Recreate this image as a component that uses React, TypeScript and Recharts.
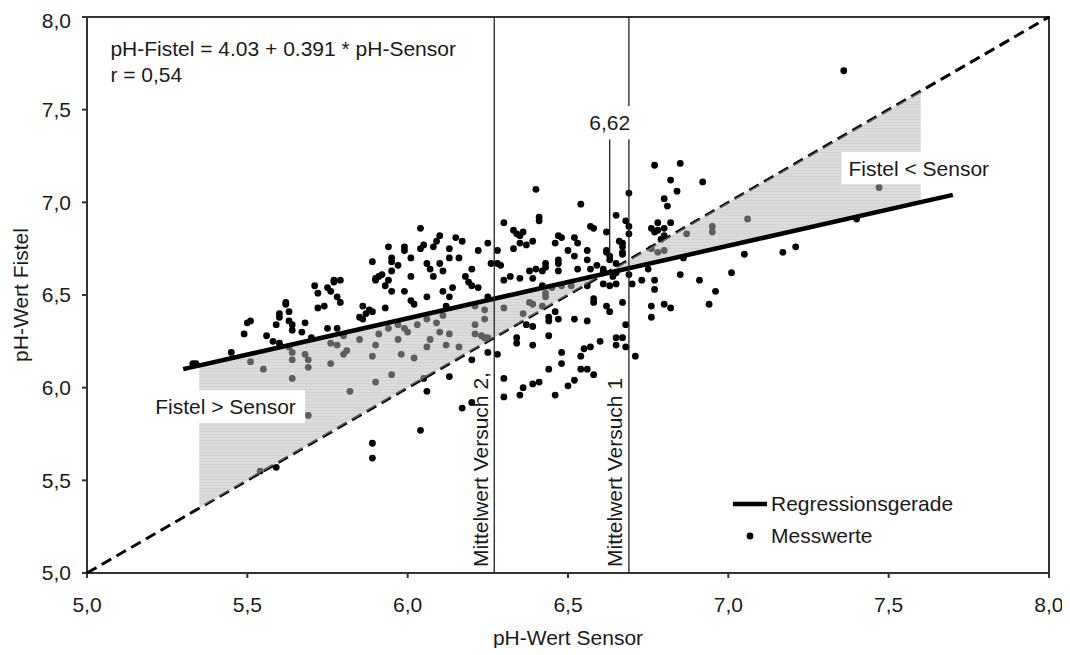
import {
  Legend,
  ReferenceArea,
  ReferenceDot,
  ReferenceLine,
  Scatter,
  ScatterChart,
  XAxis,
  YAxis
} from "recharts";

const FONT = '"Liberation Sans", Arial, Helvetica, sans-serif';
const TEXT = "#1a1a1a";

const achsenTicks = [5, 5.5, 6, 6.5, 7, 7.5, 8];

// [pH-Wert Sensor, pH-Wert Fistel]
const messwerte: [number, number][] = [
  // 5.3 - 5.75
  [5.71, 6.55], [5.72, 6.51], [5.72, 6.43], [5.62, 6.46], [5.62, 6.45],
  [5.6, 6.4], [5.6, 6.38], [5.63, 6.41], [5.59, 6.34], [5.63, 6.36],
  [5.64, 6.34], [5.64, 6.31], [5.68, 6.35], [5.67, 6.3], [5.51, 6.36],
  [5.5, 6.35], [5.49, 6.29], [5.56, 6.28], [5.58, 6.25], [5.6, 6.24],
  [5.7, 6.27], [5.45, 6.19], [5.33, 6.13], [5.34, 6.13],
  [5.51, 6.14], [5.55, 6.1], [5.64, 6.15], [5.64, 6.19], [5.64, 6.05],
  [5.68, 6.18], [5.69, 6.15], [5.69, 6.11], [5.63, 6.22], [5.69, 5.85],
  [5.54, 5.55], [5.59, 5.57],
  // 5.75 - 6.22
  [6.04, 6.86], [6.1, 6.82], [6.09, 6.79], [6.08, 6.76], [6.05, 6.77],
  [6.04, 6.75], [6.15, 6.81], [6.17, 6.79], [6.13, 6.75], [6.13, 6.7],
  [6.16, 6.7], [6.22, 6.74], [5.94, 6.76], [5.99, 6.76], [5.99, 6.74],
  [5.95, 6.7], [5.95, 6.68], [6.01, 6.7], [5.97, 6.66], [5.95, 6.63],
  [5.89, 6.68], [5.9, 6.59], [5.9, 6.58], [5.91, 6.6], [5.92, 6.61],
  [5.93, 6.55], [5.94, 6.58], [5.95, 6.52], [5.99, 6.52], [6.01, 6.6],
  [6.06, 6.67], [6.07, 6.64], [6.08, 6.6], [6.1, 6.67], [6.11, 6.63],
  [6.06, 6.49], [6.01, 6.47], [6.02, 6.45], [5.93, 6.43], [5.86, 6.44],
  [5.88, 6.42], [5.89, 6.41], [5.87, 6.4], [5.85, 6.38], [5.86, 6.37],
  [6.11, 6.52], [6.13, 6.49], [6.12, 6.44], [6.18, 6.6], [6.19, 6.57],
  [6.2, 6.55], [6.22, 6.54], [6.14, 6.54], [6.2, 6.64], [5.77, 6.58],
  [5.77, 6.57], [5.79, 6.58], [5.75, 6.54], [5.76, 6.52], [5.78, 6.49],
  [5.79, 6.46], [5.74, 6.44], [5.75, 6.32], [5.78, 6.32],
  [5.76, 6.24], [5.78, 6.23], [5.8, 6.28], [5.76, 6.13], [5.8, 6.18],
  [5.81, 6.2], [5.85, 6.26], [5.9, 6.23], [5.91, 6.29], [5.89, 6.17],
  [5.94, 6.32], [5.97, 6.34], [5.99, 6.32], [6.0, 6.3], [5.97, 6.26],
  [6.03, 6.34], [6.06, 6.37], [6.09, 6.35], [6.11, 6.39], [6.1, 6.3],
  [6.13, 6.29], [6.07, 6.26], [6.06, 6.22], [6.12, 6.23], [6.16, 6.22],
  [5.98, 6.18], [6.02, 6.16], [5.95, 6.07], [5.9, 6.03], [5.82, 5.98],
  [6.05, 6.05], [6.21, 6.34], [6.21, 6.29], [6.21, 6.44],
  [6.2, 6.15], [6.13, 6.06], [6.06, 5.98], [6.04, 5.77], [5.89, 5.7],
  [5.89, 5.62], [6.17, 5.89], [6.2, 5.92],
  // 6.22 - 6.6
  [6.4, 7.07], [6.54, 6.99], [6.41, 6.92], [6.41, 6.9], [6.3, 6.89],
  [6.33, 6.85], [6.34, 6.83], [6.36, 6.84], [6.35, 6.82], [6.39, 6.79],
  [6.35, 6.78], [6.37, 6.77], [6.33, 6.75], [6.47, 6.82], [6.48, 6.81],
  [6.46, 6.78], [6.52, 6.81], [6.53, 6.78], [6.57, 6.87], [6.58, 6.86],
  [6.5, 6.74], [6.52, 6.71], [6.56, 6.74], [6.56, 6.69], [6.57, 6.64],
  [6.53, 6.64], [6.47, 6.69], [6.47, 6.67], [6.43, 6.67], [6.43, 6.65],
  [6.4, 6.64], [6.38, 6.63], [6.39, 6.59], [6.42, 6.63], [6.35, 6.59],
  [6.32, 6.6], [6.3, 6.58], [6.28, 6.67], [6.29, 6.66], [6.28, 6.74],
  [6.25, 6.78], [6.26, 6.67], [6.25, 6.49], [6.42, 6.55], [6.47, 6.63],
  [6.24, 6.42], [6.24, 6.37], [6.23, 6.28], [6.24, 6.27], [6.25, 6.27],
  [6.3, 6.43], [6.38, 6.46], [6.39, 6.45], [6.36, 6.4], [6.43, 6.51],
  [6.43, 6.49], [6.42, 6.44], [6.45, 6.54], [6.48, 6.55], [6.51, 6.55],
  [6.56, 6.55],
  [6.37, 6.34], [6.39, 6.33], [6.44, 6.36], [6.44, 6.38], [6.46, 6.41],
  [6.47, 6.37], [6.34, 6.27], [6.34, 6.24], [6.39, 6.23], [6.44, 6.28],
  [6.52, 6.37], [6.56, 6.36], [6.58, 6.48], [6.58, 6.46], [6.6, 6.25],
  [6.55, 6.21], [6.54, 6.17], [6.57, 6.22], [6.48, 6.19], [6.48, 6.13],
  [6.44, 6.1], [6.56, 6.1], [6.54, 6.1], [6.52, 6.04], [6.5, 6.01],
  [6.28, 6.18], [6.25, 6.19], [6.3, 6.05], [6.3, 5.95], [6.35, 5.96],
  [6.36, 6.0], [6.39, 6.02], [6.41, 6.03], [6.46, 5.96],
  // 6.6 - 7.0
  [6.77, 7.2], [6.85, 7.21], [6.82, 7.12], [6.84, 7.06], [6.92, 7.11],
  [6.69, 7.05], [6.8, 7.02], [6.81, 6.98], [6.65, 6.93], [6.68, 6.9],
  [6.78, 6.89], [6.82, 6.89], [6.76, 6.86], [6.77, 6.84], [6.78, 6.85],
  [6.8, 6.86], [6.8, 6.82], [6.79, 6.8], [6.69, 6.87], [6.69, 6.83],
  [6.62, 6.84], [6.66, 6.79], [6.67, 6.78], [6.67, 6.76], [6.67, 6.73],
  [6.67, 6.72], [6.62, 6.74], [6.62, 6.73], [6.63, 6.71], [6.63, 6.69],
  [6.65, 6.67], [6.59, 6.66], [6.61, 6.64], [6.61, 6.63], [6.61, 6.62],
  [6.65, 6.62], [6.64, 6.6], [6.61, 6.56], [6.63, 6.55], [6.65, 6.56],
  [6.62, 6.44], [6.63, 6.41], [6.67, 6.46], [6.69, 6.61], [6.7, 6.56],
  [6.73, 6.58], [6.75, 6.64], [6.77, 6.58], [6.77, 6.53], [6.76, 6.44],
  [6.76, 6.38], [6.8, 6.45], [6.82, 6.43], [6.85, 6.61], [6.91, 6.58],
  [6.96, 6.52], [6.94, 6.45], [6.68, 6.34], [6.65, 6.27], [6.65, 6.23],
  [6.67, 6.27], [6.68, 6.22], [6.71, 6.17], [6.58, 6.07],
  [6.76, 6.75], [6.78, 6.73], [6.8, 6.74], [6.87, 6.83], [6.95, 6.87],
  [6.95, 6.84], [6.86, 6.7],
  // > 7.0
  [7.36, 7.71], [7.47, 7.08], [7.06, 6.91], [7.4, 6.91], [7.05, 6.72],
  [7.17, 6.73], [7.21, 6.76], [7.01, 6.62]
];

const punkte = messwerte.map(([x, y]) => ({ x, y }));

// pH-Fistel = 4.03 + 0.391 * pH-Sensor
const regressionsgerade = [
  { x: 5.3, y: 6.1 },
  { x: 7.7, y: 7.04 }
];
const winkelhalbierende = [
  { x: 5, y: 5 },
  { x: 8, y: 8 }
];
const bereichFistelGroesser = [
  { x: 5.35, y: 5.35 },
  { x: 5.35, y: 6.12 },
  { x: 6.62, y: 6.62 }
];
const bereichFistelKleiner = [
  { x: 6.62, y: 6.62 },
  { x: 7.6, y: 7.6 },
  { x: 7.6, y: 7.0 }
];

const mittelwertVersuch1 = 6.69;
const mittelwertVersuch2 = 6.27;
const schnittpunkt = 6.63;

const fmt = (v: number) => v.toFixed(1).replace(".", ",");

const Punkt = (p: any) => <circle cx={p.cx} cy={p.cy} r={3.4} fill="#000" />;
const KeinPunkt = () => <g />;

const schraffur = (id: string) => (props: any) => {
  const pts: { x: number; y: number }[] = props.points || [];
  const d = pts.map((p, i) => `${i ? "L" : "M"}${p.x},${p.y}`).join(" ") + " Z";
  return (
    <g>
      <defs>
        <pattern id={id} width="6" height="3" patternUnits="userSpaceOnUse">
          <rect width="6" height="3" fill="rgb(184,184,184)" fillOpacity="0.5" />
          <rect width="6" height="1" fill="rgb(140,140,140)" fillOpacity="0.1" />
        </pattern>
      </defs>
      <path d={d} fill={`url(#${id})`} stroke="none" />
    </g>
  );
};

const vertikalerText = (text: string, dx: number) => (props: any) => {
  const vb = props.viewBox || {};
  const x = vb.x - dx;
  const y = vb.y + vb.height - 6;
  return (
    <text
      x={x}
      y={y}
      transform={`rotate(-90, ${x}, ${y})`}
      fontSize={21}
      fill={TEXT}
      fontFamily={FONT}
      textAnchor="start"
    >
      {text}
    </text>
  );
};

const freierText = (text: string) => (props: any) => {
  const vb = props.viewBox || {};
  return (
    <text x={vb.x} y={vb.y} fontSize={21} fill={TEXT} fontFamily={FONT}>
      {text}
    </text>
  );
};

const LegendeInhalt = () => (
  <div style={{ fontFamily: FONT, fontSize: 21, color: TEXT }}>
    <div style={{ display: "flex", alignItems: "center", height: 32 }}>
      <svg width={46} height={32}>
        <line x1={8} x2={42} y1={16} y2={16} stroke="#000" strokeWidth={4.5} />
      </svg>
      <span>Regressionsgerade</span>
    </div>
    <div style={{ display: "flex", alignItems: "center", height: 32 }}>
      <svg width={46} height={32}>
        <circle cx={25} cy={16} r={3.4} fill="#000" />
      </svg>
      <span>Messwerte</span>
    </div>
  </div>
);

export default function App() {
  return (
    <div style={{ fontFamily: FONT }}>
      <ScatterChart
        width={1054}
        height={640}
        margin={{ top: 9, right: 13, bottom: 15, left: 4 }}
      >
        <XAxis
          type="number"
          dataKey="x"
          domain={[5, 8]}
          ticks={achsenTicks}
          tickFormatter={fmt}
          height={60}
          stroke="#333"
          strokeWidth={2}
          tickSize={5}
          tickMargin={19}
          tick={{ fontSize: 21, fill: TEXT }}
          label={(props: any) => {
            const vb = props.viewBox || {};
            return (
              <text
                x={vb.x + vb.width / 2}
                y={vb.y + 72}
                textAnchor="middle"
                fontSize={21}
                fill={TEXT}
                fontFamily={FONT}
              >
                pH-Wert Sensor
              </text>
            );
          }}
        />
        <YAxis
          type="number"
          dataKey="y"
          domain={[5, 8]}
          ticks={achsenTicks}
          tickFormatter={fmt}
          width={75}
          stroke="#333"
          strokeWidth={2}
          tickSize={5}
          tickMargin={11}
          tick={{ fontSize: 21, fill: TEXT }}
          label={(props: any) => {
            const vb = props.viewBox || {};
            const x = vb.x + 8;
            const y = vb.y + vb.height / 2;
            return (
              <text
                x={x}
                y={y}
                transform={`rotate(-90, ${x}, ${y})`}
                textAnchor="middle"
                dominantBaseline="central"
                fontSize={21}
                fill={TEXT}
                fontFamily={FONT}
              >
                pH-Wert Fistel
              </text>
            );
          }}
        />

        <ReferenceArea x1={5} x2={8} y1={5} y2={8} fill="none" fillOpacity={0} stroke="#333" strokeWidth={2} />

        <Scatter
          data={winkelhalbierende}
          shape={KeinPunkt}
          line={{ stroke: "#000", strokeWidth: 3, strokeDasharray: "11 6" }}
          isAnimationActive={false}
          legendType="none"
        />
        <Scatter data={punkte} shape={Punkt} fill="#000" isAnimationActive={false} />
        <Scatter
          data={bereichFistelGroesser}
          shape={KeinPunkt}
          line={schraffur("schraffurUnten")}
          isAnimationActive={false}
          legendType="none"
        />
        <Scatter
          data={bereichFistelKleiner}
          shape={KeinPunkt}
          line={schraffur("schraffurOben")}
          isAnimationActive={false}
          legendType="none"
        />
        <Scatter
          data={regressionsgerade}
          shape={KeinPunkt}
          line={{ stroke: "#000", strokeWidth: 4.5 }}
          isAnimationActive={false}
        />

        <ReferenceLine
          x={mittelwertVersuch2}
          stroke="#222"
          strokeWidth={1.3}
          zIndex={650}
          label={vertikalerText("Mittelwert Versuch 2,", 6)}
        />
        <ReferenceLine
          x={mittelwertVersuch1}
          stroke="#222"
          strokeWidth={1.3}
          zIndex={650}
          label={vertikalerText("Mittelwert Versuch 1", 7)}
        />
        <ReferenceLine
          segment={[
            { x: schnittpunkt, y: 6.7 },
            { x: schnittpunkt, y: 7.34 }
          ]}
          stroke="#222"
          strokeWidth={1.3}
          zIndex={650}
        />

        <ReferenceArea
          x1={6.555}
          x2={6.705}
          y1={7.34}
          y2={7.52}
          fill="#fff"
          fillOpacity={1}
          stroke="none"
          zIndex={700}
          label={{ value: "6,62", position: "center", fontSize: 21, fill: TEXT, fontFamily: FONT }}
        />
        <ReferenceArea
          x1={5.184}
          x2={5.68}
          y1={5.81}
          y2={5.986}
          fill="#fff"
          fillOpacity={1}
          stroke="none"
          zIndex={700}
          label={{ value: "Fistel > Sensor", position: "center", fontSize: 21, fill: TEXT, fontFamily: FONT }}
        />
        <ReferenceArea
          x1={7.353}
          x2={7.835}
          y1={7.097}
          y2={7.272}
          fill="#fff"
          fillOpacity={1}
          stroke="none"
          zIndex={700}
          label={{ value: "Fistel < Sensor", position: "center", fontSize: 21, fill: TEXT, fontFamily: FONT }}
        />

        <ReferenceDot x={5.073} y={7.787} r={0} stroke="none" fill="none" label={freierText("pH-Fistel = 4.03 + 0.391 * pH-Sensor")} />
        <ReferenceDot x={5.073} y={7.647} r={0} stroke="none" fill="none" label={freierText("r = 0,54")} />

        <Legend
          layout="vertical"
          align="center"
          verticalAlign="middle"
          content={LegendeInhalt}
          wrapperStyle={{ left: 717, top: 480, width: 300 }}
        />
      </ScatterChart>
    </div>
  );
}
